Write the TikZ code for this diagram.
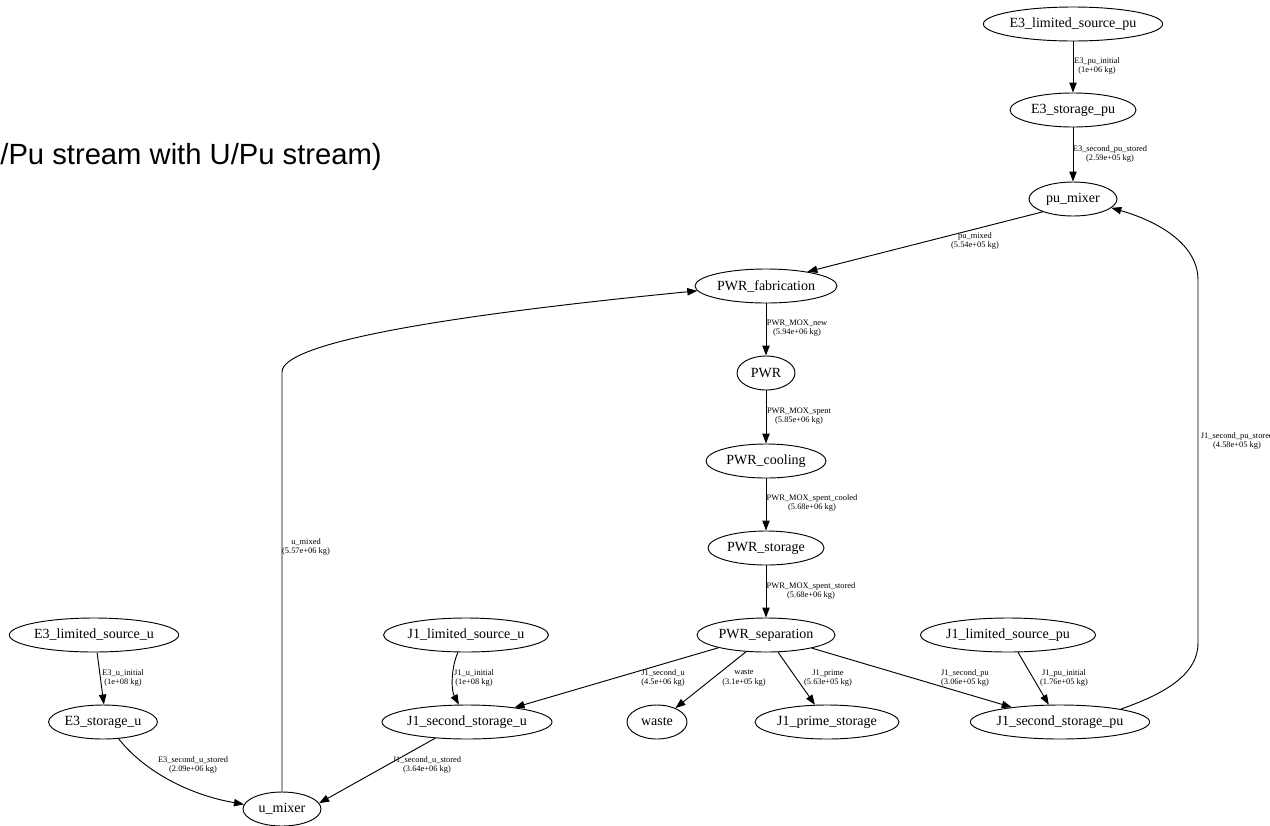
\documentclass[tikz,border=0pt]{standalone}
\usepackage{fontspec}
\setmainfont{Liberation Serif}
\newfontfamily\titlefont{Liberation Sans}
\usetikzlibrary{shapes.geometric,arrows.meta}
\begin{document}
\begin{tikzpicture}[x=0.75pt,y=-0.75pt,
  nd/.style={ellipse,draw,line width=0.7pt,inner sep=0pt,minimum height=25.5pt,font=\fontsize{10.5}{12}\selectfont},
  lbl/.style={align=center,inner sep=0pt,font=\fontsize{6.3}{7.1}\selectfont},
  edge/.style={line width=0.7pt,-{Triangle[length=7.5pt,width=5.5pt]}}]
\useasboundingbox (0,0) rectangle (1270,825);
\clip (0,0) rectangle (1270,825);
\fill[white] (0,0) rectangle (1270,825);
% title
\node[anchor=base east,inner sep=0pt,font=\titlefont\fontsize{21.9}{26}\selectfont] (title) at (382,164) {U/Pu stream with U/Pu stream)};
% nodes
\node[nd,minimum width=132pt] (e3lspu) at (1073,24) {E3\_limited\_source\_pu};
\node[nd,minimum width=94.5pt] (e3spu) at (1073,110) {E3\_storage\_pu};
\node[nd,minimum width=66pt] (pumix) at (1073,199) {pu\_mixer};
\node[nd,minimum width=106.5pt] (fab) at (766,286) {PWR\_fabrication};
\node[nd,minimum width=43.5pt] (pwr) at (766,373) {PWR};
\node[nd,minimum width=90pt] (cool) at (766,461) {PWR\_cooling};
\node[nd,minimum width=87pt] (stor) at (766,548) {PWR\_storage};
\node[nd,minimum width=103.5pt] (sep) at (766,635) {PWR\_separation};
\node[nd,minimum width=126pt] (e3lsu) at (94,635) {E3\_limited\_source\_u};
\node[nd,minimum width=80pt] (e3su) at (103,722) {E3\_storage\_u};
\node[nd,minimum width=58.5pt] (umix) at (282,809) {u\_mixer};
\node[nd,minimum width=123pt] (j1lsu) at (466,635) {J1\_limited\_source\_u};
\node[nd,minimum width=127.5pt] (j1ssu) at (467,722) {J1\_second\_storage\_u};
\node[nd,minimum width=45pt] (waste) at (657,722) {waste};
\node[nd,minimum width=108pt] (prime) at (827,722) {J1\_prime\_storage};
\node[nd,minimum width=129pt] (j1lspu) at (1008,635) {J1\_limited\_source\_pu};
\node[nd,minimum width=132pt] (j1sspu) at (1060,722) {J1\_second\_storage\_pu};
% edges
\draw[edge] (e3lspu) -- (e3spu);
\draw[edge] (e3spu) -- (pumix);
\draw[edge] (pumix.203) -- (fab.19);
\draw[edge] (fab) -- (pwr);
\draw[edge] (pwr) -- (cool);
\draw[edge] (cool) -- (stor);
\draw[edge] (stor) -- (sep);
\draw[edge] (sep.195) -- (j1ssu.17);
\draw[edge] (sep.220) -- (waste.37);
\draw[edge] (sep.305) -- (prime.125);
\draw[edge] (sep.344) -- (j1sspu.163);
\draw[edge] (j1lspu.300) -- (j1sspu.123);
\draw[edge] (e3lsu.280) -- (e3su.87);
\draw[edge] (e3su.313) .. controls (145,772) and (190,795) .. (umix.173);
\draw[edge] (j1ssu.207) -- (umix.9);
\draw[edge] (j1lsu.245) .. controls (451,668) and (451,690) .. (j1ssu.115);
\draw[edge] (umix.north) -- (282,372) .. controls (282,345) and (420,318) .. (fab.184);
\draw[edge] (j1sspu.12) .. controls (1170,692) and (1198,672) .. (1198,643) -- (1198,280) .. controls (1198,245) and (1160,222) .. (pumix.347);
% edge labels
\node[lbl] (l1) at (1097,66) {E3\_pu\_initial\\(1e+06 kg)};
\node[lbl] (l2) at (1110,154) {E3\_second\_pu\_stored\\(2.59e+05 kg)};
\node[lbl] (l3) at (975,241) {pu\_mixed\\(5.54e+05 kg)};
\node[lbl] (l4) at (797,328) {PWR\_MOX\_new\\(5.94e+06 kg)};
\node[lbl] (l5) at (799,416) {PWR\_MOX\_spent\\(5.85e+06 kg)};
\node[lbl] (l6) at (812,503) {PWR\_MOX\_spent\_cooled\\(5.68e+06 kg)};
\node[lbl] (l7) at (811,591) {PWR\_MOX\_spent\_stored\\(5.68e+06 kg)};
\node[lbl] (l8) at (306,547) {u\_mixed\\(5.57e+06 kg)};
\node[lbl] (l9) at (663,678) {J1\_second\_u\\(4.5e+06 kg)};
\node[lbl] (l10) at (744,678) {waste\\(3.1e+05 kg)};
\node[lbl] (l11) at (828,678) {J1\_prime\\(5.63e+05 kg)};
\node[lbl] (l12) at (965,678) {J1\_second\_pu\\(3.06e+05 kg)};
\node[lbl] (l13) at (1064,678) {J1\_pu\_initial\\(1.76e+05 kg)};
\node[lbl] (l14) at (1237,441) {J1\_second\_pu\_stored\\(4.58e+05 kg)};
\node[lbl] (l15) at (123,678) {E3\_u\_initial\\(1e+08 kg)};
\node[lbl] (l16) at (193,765) {E3\_second\_u\_stored\\(2.09e+06 kg)};
\node[lbl] (l17) at (427,765) {J1\_second\_u\_stored\\(3.64e+06 kg)};
\node[lbl] (l18) at (474,678) {J1\_u\_initial\\(1e+08 kg)};
\end{tikzpicture}
\end{document}
